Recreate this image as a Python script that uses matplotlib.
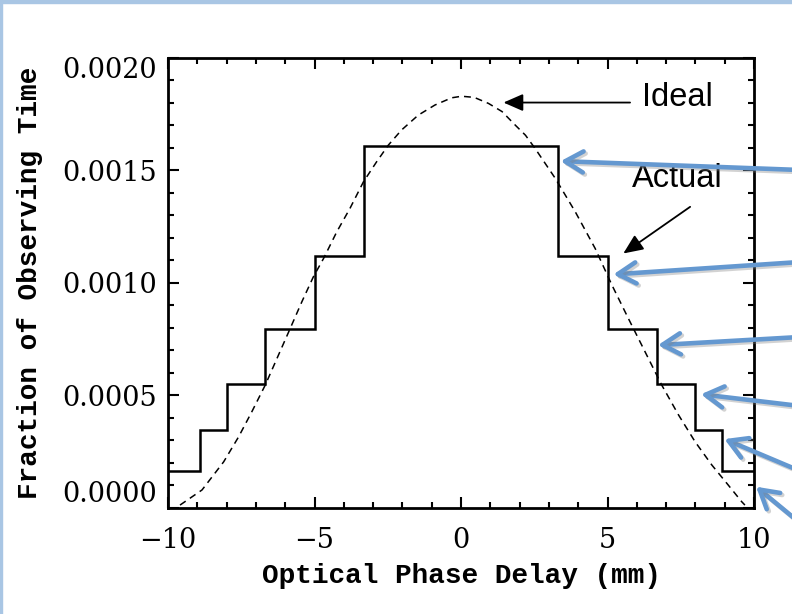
import matplotlib
matplotlib.use("Agg")
import matplotlib.pyplot as plt
import matplotlib.patheffects as pe
from matplotlib.patches import Rectangle
from matplotlib.ticker import MultipleLocator, FormatStrFormatter

# ── data ─────────────────────────────────────────────────────────────────────
# bin edges of the delay-line schedule (mm) and time fraction spent per bin
edges = [-10.0, -8.9, -8.0, -6.7, -5.0, -3.3, 3.3, 5.0, 6.7, 8.0, 8.9, 10.0]
actual = [0.000164, 0.000346, 0.000549, 0.000793, 0.00112, 0.001607,
          0.00112, 0.000793, 0.000549, 0.000346, 0.000164]

# ideal apodised distribution
ideal_x = [-9.59, -8.84, -8.10, -7.59, -7.14, -6.68, -6.23, -5.83, -5.43,
           -5.04, -4.69, -4.24, -3.79, -3.33, -2.88, -2.48, -2.03, -1.46,
           -0.89, -0.32, 0.02, 0.45, 0.94, 1.40, 1.85, 2.20, 2.53, 3.22,
           3.90, 4.58, 5.15, 5.71, 6.28, 6.85, 7.42, 7.99, 8.56, 9.12,
           9.58, 9.69]
ideal_y = [0.000013, 0.00008, 0.000205, 0.000316, 0.000427, 0.000546,
           0.000679, 0.000797, 0.000916, 0.001026, 0.001108, 0.001226,
           0.00133, 0.001448, 0.001537, 0.001611, 0.001678, 0.001744,
           0.001789, 0.001821, 0.001828, 0.001823, 0.001796, 0.00176,
           0.0017, 0.001655, 0.001596, 0.001463, 0.001315, 0.001152,
           0.00099, 0.000842, 0.000694, 0.000546, 0.000414, 0.000294,
           0.000191, 0.000102, 0.000028, 0.000013]

yticks = [0.0, 0.0005, 0.0010, 0.0015, 0.0020]

# callout arrows: tip on the histogram (data) -> tail off the right edge (px)
callout_tips = [(3.40, 0.00154), (5.20, 0.001037), (6.72, 0.000723),
                (8.19, 0.000505), (8.99, 0.000306), (10.07, 0.0000945)]
callout_tails = [(800, 444), (800, 352), (800, 277),
                 (800, 208), (800, 143), (800, 91)]

plt.rcParams["font.family"] = ["DejaVu Serif"]

fig = plt.figure(figsize=(7.92, 6.14), dpi=100)
ax = fig.add_axes([168 / 792, 106 / 614, 586 / 792, 450.5 / 614])

# step histogram (actual) + dashed ideal curve
ax.stairs(actual, edges, color="black", lw=1.8, baseline=None)
ax.plot(ideal_x, ideal_y, color="black", lw=1.1, ls=(0, (4.5, 3.3)))

ax.set_xlim(-10, 10)
ax.set_ylim(0, 0.002)
ax.xaxis.set_major_locator(MultipleLocator(5))
ax.xaxis.set_minor_locator(MultipleLocator(1))
ax.set_yticks(yticks)
ax.yaxis.set_minor_locator(MultipleLocator(0.0001))
ax.yaxis.set_major_formatter(FormatStrFormatter("%.4f"))

for s in ax.spines.values():
    s.set_linewidth(2.0)
ax.tick_params(which="both", direction="in", top=True, right=True,
               width=1.5, labelsize=19.5)
ax.tick_params(which="major", length=8)
ax.tick_params(which="minor", length=4.5)
ax.tick_params(axis="y", pad=8)
ax.tick_params(axis="x", pad=14)

# IDL style: end labels kept inside the axis range
yt = ax.yaxis.get_major_ticks()
yt[0].label1.set_verticalalignment("bottom")
yt[-1].label1.set_verticalalignment("top")

label_font = dict(family=["Liberation Mono", "DejaVu Sans Mono"],
                  fontsize=20, fontweight="bold")
ax.set_xlabel("Optical Phase Delay (mm)", va="top", **label_font)
ax.xaxis.set_label_coords(0.5, -0.122)
ax.set_ylabel("Fraction of Observing Time", va="bottom", **label_font)
ax.yaxis.set_label_coords(-0.2135, 0.5)

# labels "Ideal" / "Actual"
sans = ["Liberation Sans", "DejaVu Sans"]
head = "-|>,head_length=0.8,head_width=0.35"
ax.annotate("", xy=(1.45, 0.0018), xytext=(5.77, 0.0018),
            arrowprops=dict(arrowstyle=head, color="black", lw=1.3,
                            mutation_scale=15, shrinkA=0, shrinkB=0))
ax.text(6.18, 0.001824, "Ideal", family=sans, fontsize=23.5,
        ha="left", va="center")
ax.annotate("", xy=(5.54, 0.00113), xytext=(7.82, 0.001337),
            arrowprops=dict(arrowstyle=head, color="black", lw=1.3,
                            mutation_scale=15, shrinkA=0, shrinkB=0))
ax.text(5.83, 0.001465, "Actual", family=sans, fontsize=23.5,
        ha="left", va="center")

# blue callouts pointing at each step
for tip, tail in zip(callout_tips, callout_tails):
    ax.annotate("", xy=tip, xycoords="data",
                xytext=tail, textcoords="figure pixels",
                annotation_clip=False,
                arrowprops=dict(arrowstyle="->,head_length=0.65,head_width=0.38",
                                color="#6498d0", lw=3.3, mutation_scale=20,
                                shrinkA=0, shrinkB=0, capstyle="round",
                                joinstyle="round",
                                path_effects=[pe.SimpleLineShadow(offset=(1.5, -1.5),
                                                                  shadow_color="gray",
                                                                  alpha=0.35),
                                              pe.Normal()]))

# slide frame
fig.patches.append(Rectangle((0, 1 - 3 / 614), 1, 3 / 614,
                             transform=fig.transFigure, color="#a9c6e4"))
fig.patches.append(Rectangle((0, 0), 2 / 792, 1,
                             transform=fig.transFigure, color="#a9c6e4"))

fig.savefig("out.png", dpi=100)
